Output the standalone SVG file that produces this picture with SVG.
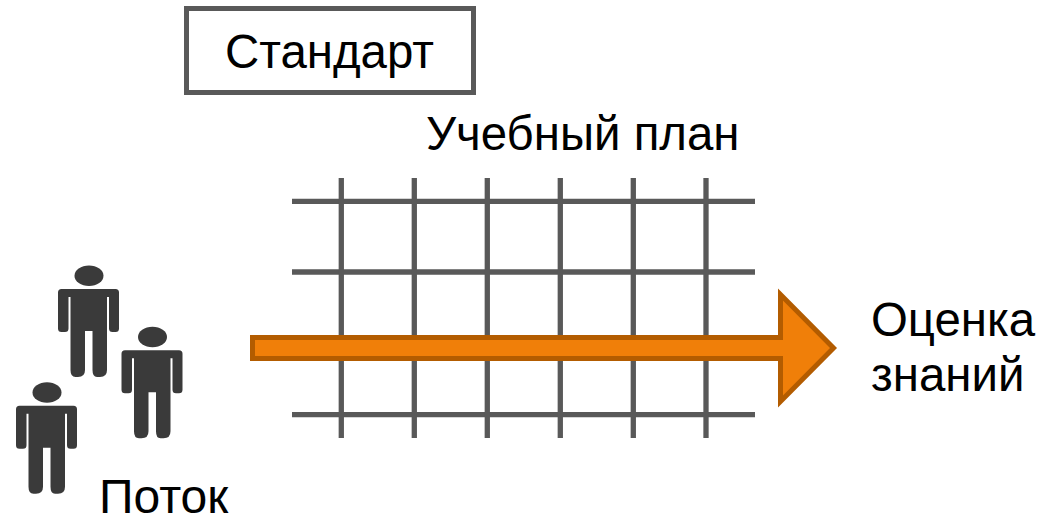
<svg xmlns="http://www.w3.org/2000/svg" width="1053" height="519" viewBox="0 0 1053 519">
<style>
text{font-family:"Liberation Sans",Arial,sans-serif;font-size:47.4px;fill:#000}
text.alt{font-size:48px}
.g line{stroke:#595959;stroke-width:5.3;fill:none}
.p{fill:#3a3a3a}
</style>
<defs>
<g id="person">
<ellipse class="p" cx="89" cy="275.7" rx="14.5" ry="10.3"/>
<path class="p" d="M61.5 289H115.5Q119 289 119 292.500V328.500Q119 332 115.500 332H112.500Q109 332 109 328.500V297H107V370Q107 377 100 377H97Q92.500 377 92.500 370V331H85V370Q85 377 78 377H75.500Q70.500 377 70.500 370V297H68.500V328.500Q68.500 332 65 332H61.500Q58 332 58 328.500V292.500Q58 289 61.500 289Z"/>
</g>
</defs>
<g id="connectors" class="g">
<line x1="292" y1="201.300" x2="755" y2="201.300"/>
<line x1="292" y1="272" x2="755" y2="272"/>
<line x1="292" y1="343" x2="755" y2="343"/>
<line x1="292" y1="414.700" x2="755" y2="414.700"/>
<line x1="341.300" y1="178" x2="341.300" y2="438"/>
<line x1="414.300" y1="178" x2="414.300" y2="438"/>
<line x1="487.300" y1="178" x2="487.300" y2="438"/>
<line x1="560.300" y1="178" x2="560.300" y2="438"/>
<line x1="633.300" y1="178" x2="633.300" y2="438"/>
<line x1="706" y1="178" x2="706" y2="438"/>
</g>
<g id="arrow">
<path d="M252.500 337.500H780.500V294.500L833.500 348L780.500 401.500V358.500H252.500Z" fill="#f07f09" stroke="#b35c00" stroke-width="5"/>
</g>
<g id="standard">
<rect x="186.500" y="8.500" width="287" height="84" fill="#fff" stroke="#595959" stroke-width="5"/>
<text x="225" y="68">Стандарт</text>
</g>
<g id="plan"><text x="426" y="150">Учебный план</text></g>
<g id="people">
<use href="#person"/>
<use href="#person" x="63.500" y="61.300"/>
<use href="#person" x="-42" y="116.800"/>
</g>
<g id="flow"><text class="alt" x="99" y="513">Поток</text></g>
<g id="assessment">
<text x="871" y="336">Оценка</text>
<text x="871" y="391">знаний</text>
</g>
</svg>
